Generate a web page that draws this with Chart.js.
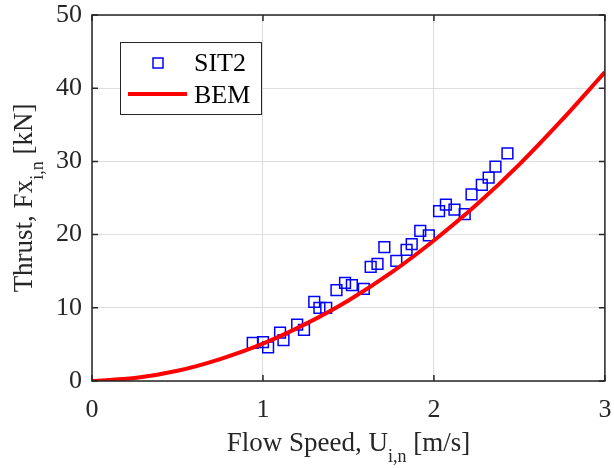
<!DOCTYPE html>
<html>
<head>
<meta charset="utf-8">
<script src="https://cdn.jsdelivr.net/npm/chart.js@4.4.0/dist/chart.umd.min.js"></script>
<style>
  html, body { margin: 0; padding: 0; background: #fff; }
  #wrap { width: 614px; height: 468px; }
</style>
</head>
<body>
<div id="wrap"><canvas id="thrust-chart" width="614" height="468"></canvas></div>
<script>
// Mesures SIT2 (vitesse [m/s], poussée [kN])
const sitSpeed  = [0.94, 1.00, 1.03, 1.10, 1.12, 1.20, 1.24, 1.30, 1.33, 1.37, 1.43, 1.48, 1.52, 1.59, 1.63, 1.67,
                   1.71, 1.78, 1.84, 1.87, 1.92, 1.97, 2.03, 2.07, 2.12, 2.18, 2.22, 2.28, 2.32, 2.36, 2.43];
const sitThrust = [5.2, 5.3, 4.6, 6.6, 5.6, 7.7, 7.0, 10.8, 10.0, 10.0, 12.4, 13.4, 13.1, 12.6, 15.6, 16.0,
                   18.3, 16.4, 17.9, 18.7, 20.5, 19.9, 23.2, 24.1, 23.4, 22.8, 25.5, 26.8, 27.8, 29.3, 31.1];

// Courbe BEM
const bemSpeed  = [0, 0.25, 0.5, 0.75, 1.0, 1.25, 1.5, 1.75, 2.0, 2.25, 2.5, 2.75, 3.0];
const bemThrust = [0, 0.4, 1.4, 3.0, 5.1, 7.8, 11.0, 14.8, 19.2, 24.1, 29.6, 35.7, 42.2];

const xTicks = [0, 1, 2, 3];
const yTicks = [0, 10, 20, 30, 40, 50];

const FONT = "'Liberation Serif', 'Times New Roman', serif";
const TEXT_COLOR = '#262626';

// Supprime le débordement des étiquettes pour garder la zone de tracé fixe
function noOverflow(scale) {
    scale.paddingLeft = 0;
    scale.paddingRight = 0;
    scale.paddingTop = 0;
    scale.paddingBottom = 0;
}

// Cadre, graduations intérieures, titres d'axes et légende
const decorPlugin = {
    id: 'decor',
    afterDraw(chart) {
        const ctx = chart.ctx;
        const area = chart.chartArea;
        const xs = chart.scales.x;
        const ys = chart.scales.y;

        ctx.save();
        ctx.strokeStyle = TEXT_COLOR;
        ctx.lineWidth = 1.5;
        ctx.strokeRect(area.left, area.top, area.right - area.left, area.bottom - area.top);

        // graduations vers l'intérieur
        const tl = 6;
        ctx.beginPath();
        xTicks.forEach(v => {
            const px = xs.getPixelForValue(v);
            ctx.moveTo(px, area.bottom); ctx.lineTo(px, area.bottom - tl);
            ctx.moveTo(px, area.top); ctx.lineTo(px, area.top + tl);
        });
        yTicks.forEach(v => {
            const py = ys.getPixelForValue(v);
            ctx.moveTo(area.left, py); ctx.lineTo(area.left + tl, py);
            ctx.moveTo(area.right, py); ctx.lineTo(area.right - tl, py);
        });
        ctx.stroke();

        // titre axe X avec indice
        ctx.fillStyle = TEXT_COLOR;
        ctx.textBaseline = 'alphabetic';
        ctx.textAlign = 'left';
        const big = '27px ' + FONT;
        const small = '18px ' + FONT;
        const drawParts = (parts, cx, baseY) => {
            let total = 0;
            parts.forEach(p => { ctx.font = p.sub ? small : big; total += ctx.measureText(p.t).width; });
            let x = cx - total / 2;
            parts.forEach(p => {
                ctx.font = p.sub ? small : big;
                ctx.fillText(p.t, x, baseY + (p.sub ? 11 : 0));
                x += ctx.measureText(p.t).width;
            });
        };
        drawParts([{ t: 'Flow Speed, U' }, { t: 'i,n', sub: true }, { t: ' [m/s]' }],
                  (area.left + area.right) / 2, 451);

        // titre axe Y (tourné)
        ctx.save();
        ctx.translate(32, (area.top + area.bottom) / 2);
        ctx.rotate(-Math.PI / 2);
        drawParts([{ t: 'Thrust, Fx' }, { t: 'i,n', sub: true }, { t: ' [kN]' }], 0, 0);
        ctx.restore();

        // légende
        const lx = 120, ly = 42, lw = 141, lh = 72;
        ctx.fillStyle = '#fff';
        ctx.fillRect(lx, ly, lw, lh);
        ctx.strokeStyle = TEXT_COLOR;
        ctx.lineWidth = 1;
        ctx.strokeRect(lx + 0.5, ly + 0.5, lw, lh);

        ctx.strokeStyle = '#0000ff';
        ctx.lineWidth = 1.5;
        ctx.strokeRect(153, 58, 10, 10);

        ctx.strokeStyle = '#ff0000';
        ctx.lineWidth = 4;
        ctx.beginPath();
        ctx.moveTo(128, 94); ctx.lineTo(187, 94);
        ctx.stroke();

        ctx.fillStyle = '#000';
        ctx.font = '26px ' + FONT;
        ctx.fillText('SIT2', 194, 71);
        ctx.fillText('BEM', 194, 103);
        ctx.restore();
    }
};

const ctx = document.getElementById('thrust-chart');
new Chart(ctx, {
    data: {
        datasets: [
            {
                type: 'scatter',
                label: 'SIT2',
                data: sitSpeed.map((s, i) => ({ x: s, y: sitThrust[i] })),
                pointStyle: 'rect',
                pointRadius: 7.6,
                pointHoverRadius: 7.6,
                borderColor: '#0000ff',
                backgroundColor: 'rgba(0,0,0,0)',
                borderWidth: 1.5,
                order: 2
            },
            {
                type: 'line',
                label: 'BEM',
                data: bemSpeed.map((s, i) => ({ x: s, y: bemThrust[i] })),
                borderColor: '#ff0000',
                borderWidth: 4,
                pointRadius: 0,
                cubicInterpolationMode: 'monotone',
                fill: false,
                order: 1
            }
        ]
    },
    options: {
        responsive: false,
        animation: false,
        layout: { padding: { left: 0, right: 1, top: 15, bottom: 0 } },
        plugins: { legend: { display: false }, tooltip: { enabled: false } },
        scales: {
            x: {
                type: 'linear',
                min: 0, max: 3,
                afterFit: s => { s.height = 87; noOverflow(s); },
                afterBuildTicks: s => { s.ticks = xTicks.map(v => ({ value: v })); },
                grid: { color: '#dddddd', lineWidth: 1, drawTicks: false },
                border: { display: false },
                ticks: { font: { family: FONT, size: 26 }, color: TEXT_COLOR, padding: 14, maxRotation: 0 }
            },
            y: {
                type: 'linear',
                min: 0, max: 50,
                afterFit: s => { s.width = 92; noOverflow(s); },
                afterBuildTicks: s => { s.ticks = yTicks.map(v => ({ value: v })); },
                grid: { color: '#dddddd', lineWidth: 1, drawTicks: false },
                border: { display: false },
                ticks: { font: { family: FONT, size: 26 }, color: TEXT_COLOR, padding: 10 }
            }
        }
    },
    plugins: [decorPlugin]
});
</script>
</body>
</html>
